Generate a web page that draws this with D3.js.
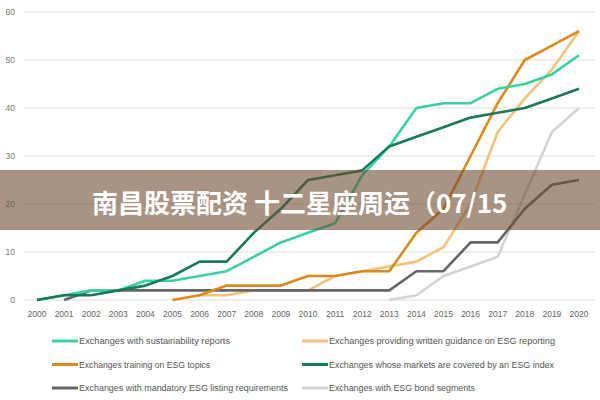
<!DOCTYPE html>
<html>
<head>
<meta charset="utf-8">
<script src="https://cdn.jsdelivr.net/npm/d3@7"></script>
<style>
  html, body { margin: 0; padding: 0; background: #fff; }
  svg { display: block; }
</style>
</head>
<body>
<svg id="chart" width="600" height="400"></svg>
<script>
const years = d3.range(2000, 2021);
const yTicks = [0, 10, 20, 30, 40, 50, 60];

const sustainabilityReports = [0,1,2,2,4,4,5,6,9,12,14,16,26,32,40,41,41,44,45,47,51];
const writtenGuidance      = [null,null,null,null,null,null,1,1,2,2,2,5,6,7,8,11,20,35,42,48,56];
const trainingESG          = [null,null,null,null,null,0,1,3,3,3,5,5,6,6,14,19,30,41,50,53,56];
const esgIndex             = [0,1,1,2,3,5,8,8,14,19,25,26,27,32,34,36,38,39,40,42,44];
const mandatoryListing     = [null,0,2,2,2,2,2,2,2,2,2,2,2,2,6,6,12,12,19,24,25];
const bondSegments         = [null,null,null,null,null,null,null,null,null,null,null,null,null,0,1,5,7,9,22,35,40];

const seriesNames = [
  "Exchanges with sustainability reports",
  "Exchanges providing written guidance on ESG reporting",
  "Exchanges training on ESG topics",
  "Exchanges whose markets are covered by an ESG index",
  "Exchanges with mandatory ESG listing requirements",
  "Exchanges with ESG bond segments"
];
const seriesValues = [sustainabilityReports, writtenGuidance, trainingESG, esgIndex, mandatoryListing, bondSegments];
const seriesColors = ["#33d3a6", "#f3c27c", "#dd8b14", "#187a5b", "#666666", "#d3d3d3"];
const drawOrder = [5, 1, 4, 2, 0, 3];

const bannerText = "南昌股票配资 十二星座周运（07/15";

const svg = d3.select("#chart");
const x = d3.scaleLinear().domain([2000, 2020]).range([37, 579]);
const y = d3.scaleLinear().domain([0, 60]).range([300, 12]);

// gridlines
svg.append("g").selectAll("line").data(yTicks).join("line")
  .attr("x1", 24).attr("x2", 595)
  .attr("y1", d => y(d)).attr("y2", d => y(d))
  .attr("stroke", "#dedede").attr("stroke-width", 1.2);

// y labels
svg.append("g").selectAll("text").data(yTicks).join("text")
  .attr("x", 15).attr("y", d => y(d) + 3)
  .attr("text-anchor", "end")
  .attr("font-family", "Liberation Sans, Arial, sans-serif")
  .attr("font-size", 8.5).attr("fill", "#777")
  .text(d => d);

// x labels
svg.append("g").selectAll("text").data(years).join("text")
  .attr("x", d => x(d)).attr("y", 317)
  .attr("text-anchor", "middle")
  .attr("font-family", "Liberation Sans, Arial, sans-serif")
  .attr("font-size", 8.5).attr("fill", "#666")
  .text(d => d);

// lines
const line = d3.line()
  .defined(d => d.v !== null)
  .x(d => x(d.year)).y(d => y(d.v));

svg.append("g").selectAll("path").data(drawOrder).join("path")
  .attr("d", i => line(years.map((yr, j) => ({year: yr, v: seriesValues[i][j]}))))
  .attr("fill", "none")
  .attr("stroke", i => seriesColors[i])
  .attr("stroke-width", 2.6)
  .attr("stroke-linejoin", "round");

// legend
const legend = svg.append("g");
const legPos = seriesNames.map((n, i) => ({
  i, x: (i % 2 === 0) ? 52 : 302, y: 341 + Math.floor(i / 2) * 23.5
}));
legend.selectAll("line").data(legPos).join("line")
  .attr("x1", d => d.x).attr("x2", d => d.x + 26)
  .attr("y1", d => d.y).attr("y2", d => d.y)
  .attr("stroke", d => seriesColors[d.i]).attr("stroke-width", 3);
const legWidths = [151, 226, 131, 225, 209, 146];
legend.selectAll("text").data(legPos).join("text")
  .attr("x", d => d.x + 27).attr("y", d => d.y + 3)
  .attr("font-family", "Liberation Sans, Arial, sans-serif")
  .attr("font-size", 8.5).attr("fill", "#555")
  .attr("textLength", d => legWidths[d.i])
  .attr("lengthAdjust", "spacingAndGlyphs")
  .text(d => seriesNames[d.i]);

// banner overlay
svg.append("rect")
  .attr("x", 0).attr("y", 170).attr("width", 600).attr("height", 60)
  .attr("fill", "rgb(110,75,50)").attr("fill-opacity", 0.6);
svg.append("text")
  .attr("x", 92).attr("y", 213)
  .attr("font-family", "Noto Sans CJK SC, sans-serif")
  .attr("font-weight", "bold")
  .attr("font-size", 26).attr("fill", "#fff")
  .text(bannerText);
</script>
</body>
</html>
